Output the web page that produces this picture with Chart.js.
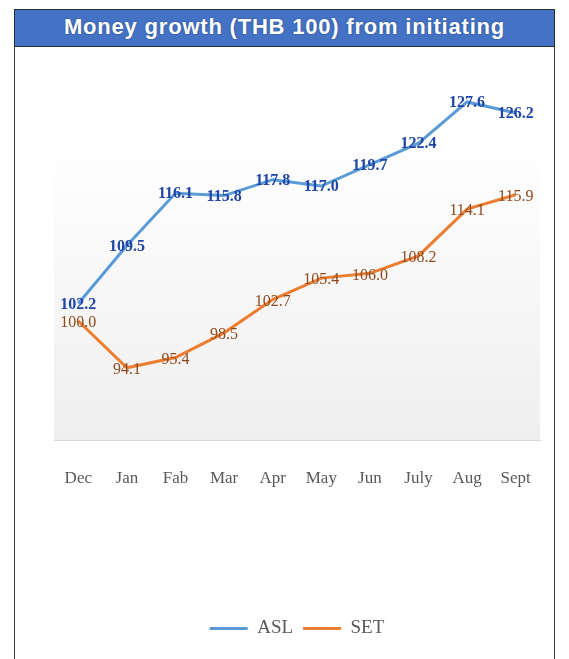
<!DOCTYPE html>
<html>
<head>
<meta charset="utf-8">
<script src="https://cdn.jsdelivr.net/npm/chart.js@4.4.1/dist/chart.umd.min.js"></script>
<style>
  html, body { margin: 0; padding: 0; background: #ffffff; width: 569px; height: 659px; overflow: hidden; }
  #frame { position: absolute; left: 14px; top: 9px; width: 539px; height: 700px; border: 1px solid #3a3a3a; background: #fff; }
  #title { position: absolute; left: 14px; top: 9px; width: 539px; height: 36px; border: 1px solid #2a2a2a; background: #4472C4;
           color: #fff; font-family: "Liberation Sans", Arial, sans-serif; font-weight: bold; font-size: 22px; letter-spacing: 0.8px; line-height: 34px; text-align: center;
           text-shadow: 0 0 2px rgba(0,0,0,0.35); }
  #wrap { position: absolute; left: 15px; top: 47px; width: 538px; height: 612px; }
</style>
</head>
<body>
<div id="frame"></div>
<div id="title">Money growth (THB 100) from initiating</div>
<div id="wrap"><canvas id="c" width="538" height="612"></canvas></div>
<script>
const categories = ["Dec", "Jan", "Fab", "Mar", "Apr", "May", "Jun", "July", "Aug", "Sept"];
const aslValues = [102.2, 109.5, 116.1, 115.8, 117.8, 117.0, 119.7, 122.4, 127.6, 126.2];
const setValues = [100.0, 94.1, 95.4, 98.5, 102.7, 105.4, 106.0, 108.2, 114.1, 115.9];
const seriesNames = ["ASL", "SET"];

const bgPlugin = {
  id: 'bgGradient',
  beforeDatasetsDraw(chart) {
    const { ctx, chartArea: a } = chart;
    const g = ctx.createLinearGradient(0, a.top, 0, a.bottom);
    g.addColorStop(0, '#ffffff');
    g.addColorStop(0.2, '#ffffff');
    g.addColorStop(1, '#efefef');
    ctx.save();
    ctx.fillStyle = g;
    ctx.fillRect(a.left, a.top, a.right - a.left, a.bottom - a.top);
    ctx.restore();
  }
};

const labelPlugin = {
  id: 'valueLabels',
  afterDatasetsDraw(chart) {
    const ctx = chart.ctx;
    chart.data.datasets.forEach((ds, i) => {
      const meta = chart.getDatasetMeta(i);
      ctx.save();
      ctx.font = ds.labelFont;
      ctx.fillStyle = ds.labelColor;
      ctx.textAlign = 'center';
      ctx.textBaseline = 'middle';
      meta.data.forEach((pt, j) => {
        ctx.fillText(ds.data[j].toFixed(1), pt.x, pt.y + ds.labelOffset);
      });
      ctx.restore();
    });
  }
};

new Chart(document.getElementById('c'), {
  type: 'line',
  data: {
    labels: categories,
    datasets: [
      { label: seriesNames[0], data: aslValues, borderColor: '#5B9BD5', backgroundColor: '#5B9BD5', borderWidth: 3,
        pointRadius: 0, tension: 0, labelFont: 'bold 16px "Liberation Serif", "Times New Roman", serif', labelColor: '#1F45A6', labelOffset: 1 },
      { label: seriesNames[1], data: setValues, borderColor: '#ED7D31', backgroundColor: '#ED7D31', borderWidth: 3,
        pointRadius: 0, tension: 0, labelFont: '16px "Liberation Serif", "Times New Roman", serif', labelColor: '#8E4A1E', labelOffset: 2 }
    ]
  },
  options: {
    responsive: false,
    animation: false,
    layout: { padding: { left: 39, right: 13, top: 20, bottom: 11 } },
    scales: {
      x: {
        offset: true,
        grid: { display: false, drawTicks: false, offset: true },
        border: { display: true, color: '#d9d9d9', width: 1 },
        ticks: { color: '#595959', padding: 0, maxRotation: 0, autoSkip: false,
                 font: { family: '"Liberation Serif", "Times New Roman", serif', size: 17, lineHeight: 4.5 } },
        afterFit(scale) { scale.height = 169; }
      },
      y: { display: false, min: 85, max: 132 }
    },
    plugins: {
      legend: {
        position: 'bottom',
        labels: { usePointStyle: true, pointStyle: 'line', pointStyleWidth: 38, boxHeight: 18, padding: 10,
                  color: '#595959', font: { family: '"Liberation Serif", "Times New Roman", serif', size: 19 } }
      },
      tooltip: { enabled: false },
      title: { display: false }
    }
  },
  plugins: [bgPlugin, labelPlugin]
});
</script>
</body>
</html>
